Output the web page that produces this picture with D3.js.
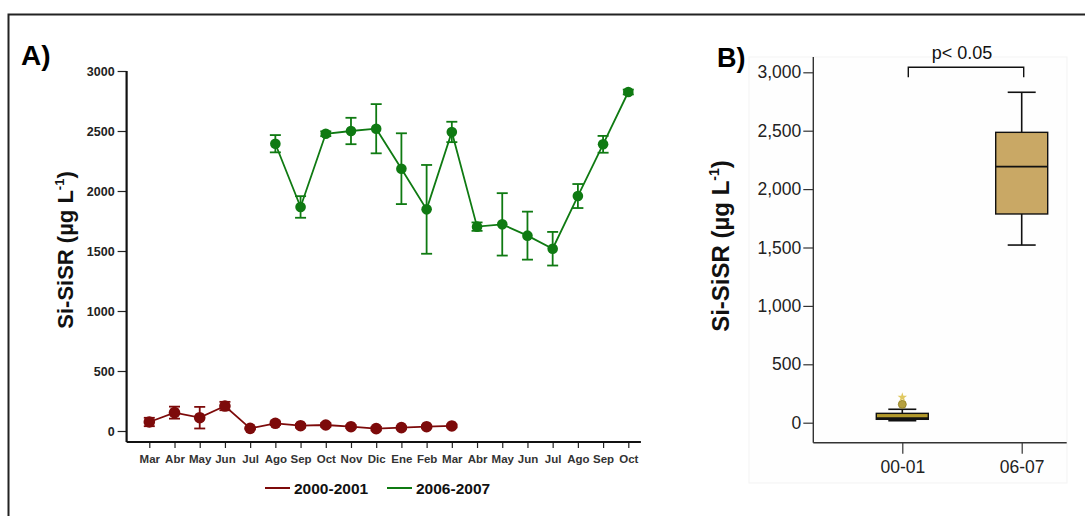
<!DOCTYPE html>
<html>
<head>
<meta charset="utf-8">
<script src="https://cdn.jsdelivr.net/npm/d3@7"></script>
<style>
  body { margin: 0; background: #fff; }
  svg { display: block; font-family: "Liberation Sans", Arial, sans-serif; }
</style>
</head>
<body>
<svg id="fig" width="1085" height="516"></svg>
<script>
// ---- data ----
var months = ["Mar","Abr","May","Jun","Jul","Ago","Sep","Oct","Nov","Dic","Ene","Feb",
              "Mar","Abr","May","Jun","Jul","Ago","Sep","Oct"];
// 2000-2001 : Mar .. Mar (index 0-12)
var red_mean = [75, 153, 111, 208, 22, 64, 44, 50, 36, 20, 28, 36, 42];
var red_err  = [35, 50, 90, 35, 8, 15, 15, 15, 12, 15, 10, 10, 12];
// 2006-2007 : Ago .. Oct (index 5-19)
var green_start = 5;
var green_mean = [2394, 1867, 2477, 2500, 2519, 2186, 1847, 2492, 1703, 1722, 1628, 1519, 1958, 2389, 2825];
var green_err  = [72, 90, 20, 110, 205, 295, 370, 85, 35, 260, 200, 140, 100, 70, 20];
var yTicksA = [0, 500, 1000, 1500, 2000, 2500, 3000];

var groups   = ["00-01", "06-07"];
var box_q1   = [29, 1787];
var box_med  = [40, 2192];
var box_q3   = [80, 2486];
var box_lo   = [17, 1521];
var box_hi   = [115, 2829];
var outlier_circle = [157];   // 00-01
var outlier_star   = [217];   // 00-01
var yTicksB = [0, 500, 1000, 1500, 2000, 2500, 3000];

var RED = "#7d0a0a", GREEN = "#0f7a12", BOXFILL = "#c9a865";

var svg = d3.select("#fig");

// outer frame (left + top only visible)
svg.append("path")
  .attr("d", "M8.5,516 L8.5,14.5 L1085,14.5")
  .attr("fill", "none").attr("stroke", "#222").attr("stroke-width", 2);

// ================= Panel A =================
var x = d3.scaleLinear().domain([0, 19]).range([149.3, 628.3]);
var y = d3.scaleLinear().domain([0, 3000]).range([431, 71]);
var axisY = 442;

svg.append("text")
  .attr("x", 21).attr("y", 65)
  .attr("font-size", 28).attr("font-weight", "bold")
  .text("A)");

// y axis
var gy = svg.append("g").attr("transform", "translate(" + x(-0.9) + ",0)")
  .call(d3.axisLeft(y).tickValues(yTicksA).tickSize(9).tickPadding(3).tickFormat(d3.format("d")));
gy.select(".domain").remove();
gy.selectAll("line").attr("stroke", "#222").attr("stroke-width", 1.2);
gy.selectAll("text").attr("font-size", 12.5).attr("font-weight", "bold").attr("fill", "#222")
  .attr("font-family", "Liberation Sans, Arial, sans-serif");
svg.append("line")
  .attr("x1", x(-0.9)).attr("x2", x(-0.9)).attr("y1", y(3000)).attr("y2", axisY)
  .attr("stroke", "#111").attr("stroke-width", 2.2);

// x axis
var gx = svg.append("g").attr("transform", "translate(0," + axisY + ")")
  .call(d3.axisBottom(x).tickValues(d3.range(months.length)).tickSize(6).tickPadding(7)
    .tickFormat(function(i) { return months[i]; }));
gx.select(".domain").remove();
gx.selectAll("line").attr("stroke", "#222").attr("stroke-width", 1.2);
gx.selectAll("text").attr("font-size", 11.5).attr("font-weight", "bold").attr("fill", "#333")
  .attr("font-family", "Liberation Sans, Arial, sans-serif");
svg.append("line")
  .attr("x1", x(-0.9)).attr("x2", x(19.5)).attr("y1", axisY).attr("y2", axisY)
  .attr("stroke", "#111").attr("stroke-width", 2.2);

// y title A
var tA = svg.append("text")
  .attr("transform", "translate(73,250) rotate(-90)")
  .attr("text-anchor", "middle")
  .attr("font-size", 22).attr("font-weight", "bold").attr("fill", "#111");
tA.append("tspan").text("Si-SiSR (\u00b5g L");
tA.append("tspan").attr("font-size", 13).attr("dy", -9).text("-1");
tA.append("tspan").attr("dy", 9).text(")");

function drawSeries(vals, errs, start, color, r) {
  var pts = vals.map(function(v, i) { return { i: i + start, v: v, e: errs[i] }; });
  var g = svg.append("g");
  g.append("path")
    .datum(pts)
    .attr("fill", "none").attr("stroke", color).attr("stroke-width", 1.8)
    .attr("d", d3.line().x(function(d) { return x(d.i); }).y(function(d) { return y(d.v); }));
  var eb = g.selectAll(".eb").data(pts).enter().append("g");
  eb.append("line")
    .attr("x1", function(d) { return x(d.i); }).attr("x2", function(d) { return x(d.i); })
    .attr("y1", function(d) { return y(d.v - d.e); }).attr("y2", function(d) { return y(d.v + d.e); })
    .attr("stroke", color).attr("stroke-width", 1.8);
  [-1, 1].forEach(function(s) {
    eb.append("line")
      .attr("x1", function(d) { return x(d.i) - 5.5; }).attr("x2", function(d) { return x(d.i) + 5.5; })
      .attr("y1", function(d) { return y(d.v + s * d.e); }).attr("y2", function(d) { return y(d.v + s * d.e); })
      .attr("stroke", color).attr("stroke-width", 1.8);
  });
  g.selectAll(".dot").data(pts).enter().append("circle")
    .attr("cx", function(d) { return x(d.i); }).attr("cy", function(d) { return y(d.v); })
    .attr("r", r).attr("fill", color);
}
drawSeries(red_mean, red_err, 0, RED, 5.8);
drawSeries(green_mean, green_err, green_start, GREEN, 5.3);

// legend
var legend = [{ label: "2000-2001", color: RED, x0: 265 }, { label: "2006-2007", color: GREEN, x0: 387 }];
legend.forEach(function(l) {
  svg.append("line").attr("x1", l.x0).attr("x2", l.x0 + 25).attr("y1", 488).attr("y2", 488)
    .attr("stroke", l.color).attr("stroke-width", 2);
  svg.append("text").attr("x", l.x0 + 29).attr("y", 494)
    .attr("font-size", 15.5).attr("font-weight", "bold").attr("fill", "#111").text(l.label);
});

// ================= Panel B =================
var xb = d3.scalePoint().domain(groups).range([902.3, 1021.7]);
var yb = d3.scaleLinear().domain([0, 3000]).range([422.7, 72.3]);
var axisYB = 442.7, leftB = 813.3;

// faint plot background
svg.append("rect").attr("x", 749).attr("y", 57).attr("width", 318).attr("height", 426)
  .attr("fill", "#fefefe").attr("stroke", "#f3f3f3");

svg.append("text")
  .attr("x", 717).attr("y", 67)
  .attr("font-size", 27).attr("font-weight", "bold")
  .text("B)");

var gyb = svg.append("g").attr("transform", "translate(" + leftB + ",0)")
  .call(d3.axisLeft(yb).tickValues(yTicksB).tickSize(10).tickPadding(2).tickFormat(d3.format(",")));
gyb.select(".domain").remove();
gyb.selectAll("line").attr("stroke", "#333").attr("stroke-width", 1.2);
gyb.selectAll("text").attr("font-size", 17.5).attr("fill", "#222")
  .attr("font-family", "Liberation Sans, Arial, sans-serif");
svg.append("line").attr("x1", leftB).attr("x2", leftB).attr("y1", 57).attr("y2", axisYB)
  .attr("stroke", "#333").attr("stroke-width", 1.4);

var gxb = svg.append("g").attr("transform", "translate(0," + axisYB + ")")
  .call(d3.axisBottom(xb).tickSize(11).tickPadding(7));
gxb.select(".domain").remove();
gxb.selectAll("line").attr("stroke", "#333").attr("stroke-width", 1.2);
gxb.selectAll("text").attr("font-size", 17.5).attr("fill", "#222")
  .attr("font-family", "Liberation Sans, Arial, sans-serif");
svg.append("line").attr("x1", leftB).attr("x2", 1066.7).attr("y1", axisYB).attr("y2", axisYB)
  .attr("stroke", "#333").attr("stroke-width", 1.4);

// y title B
var tB = svg.append("text")
  .attr("transform", "translate(729,246) rotate(-90)")
  .attr("text-anchor", "middle")
  .attr("font-size", 24).attr("font-weight", "bold").attr("fill", "#111");
tB.append("tspan").text("Si-SiSR (\u00b5g L");
tB.append("tspan").attr("font-size", 14).attr("dy", -10).text("-1");
tB.append("tspan").attr("dy", 10).text(")");

// boxes
var boxW = 52, capW = 28;
groups.forEach(function(gname, i) {
  var cx = xb(gname);
  var g = svg.append("g");
  g.append("line").attr("x1", cx).attr("x2", cx).attr("y1", yb(box_hi[i])).attr("y2", yb(box_lo[i]))
    .attr("stroke", "#111").attr("stroke-width", 1.6);
  [box_hi[i], box_lo[i]].forEach(function(v) {
    g.append("line").attr("x1", cx - capW / 2).attr("x2", cx + capW / 2).attr("y1", yb(v)).attr("y2", yb(v))
      .attr("stroke", "#111").attr("stroke-width", 1.6);
  });
  g.append("rect").attr("x", cx - boxW / 2).attr("width", boxW)
    .attr("y", yb(box_q3[i])).attr("height", yb(box_q1[i]) - yb(box_q3[i]))
    .attr("fill", i === 0 ? "#b39a2c" : BOXFILL).attr("stroke", "#111").attr("stroke-width", 1.4);
  g.append("line").attr("x1", cx - boxW / 2).attr("x2", cx + boxW / 2).attr("y1", yb(box_med[i])).attr("y2", yb(box_med[i]))
    .attr("stroke", "#111").attr("stroke-width", 1.8);
});

// outliers for 00-01
outlier_circle.forEach(function(v) {
  svg.append("circle").attr("cx", xb("00-01")).attr("cy", yb(v)).attr("r", 4)
    .attr("fill", "#b5a040").attr("stroke", "#8f7d20").attr("stroke-width", 0.8);
});
outlier_star.forEach(function(v) {
  svg.append("path").attr("d", d3.symbol().type(d3.symbolStar).size(28)())
    .attr("transform", "translate(" + xb("00-01") + "," + yb(v) + ")")
    .attr("fill", "#e0c860");
});

// significance bracket
var bTop = 67.3, bDrop = 10;
svg.append("path")
  .attr("d", "M" + (xb("00-01") + 6) + "," + (bTop + bDrop) + " V" + bTop + " H" + (xb("06-07") + 2) + " V" + (bTop + bDrop))
  .attr("fill", "none").attr("stroke", "#111").attr("stroke-width", 1.4);
svg.append("text")
  .attr("x", (xb("00-01") + xb("06-07")) / 2 + 0).attr("y", 59)
  .attr("text-anchor", "middle").attr("font-size", 18).attr("fill", "#111")
  .text("p< 0.05");
</script>
</body>
</html>
